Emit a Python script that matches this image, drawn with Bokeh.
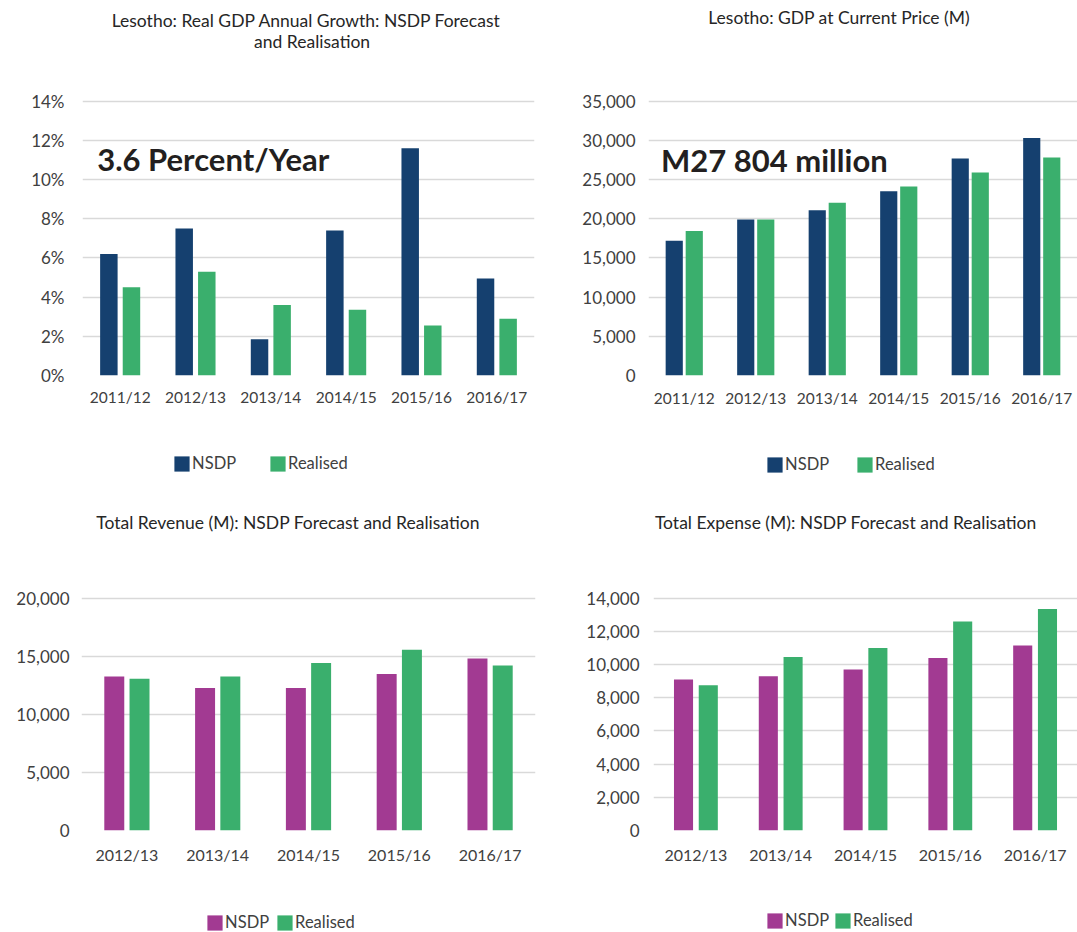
from bokeh.plotting import figure
from bokeh.models import (FactorRange, Range1d, FixedTicker, NumeralTickFormatter,
                          PrintfTickFormatter, Label, Legend, LegendItem, ColumnDataSource)
from bokeh.transform import dodge
from bokeh.layouts import column, row
from bokeh.embed import file_html
from bokeh.resources import INLINE

# ---------------- data ----------------
years_a = ["2011/12", "2012/13", "2013/14", "2014/15", "2015/16", "2016/17"]
growth_nsdp = [6.2, 7.5, 1.85, 7.4, 11.6, 4.95]
growth_real = [4.5, 5.3, 3.6, 3.35, 2.55, 2.9]
growth_ticks = [0, 2, 4, 6, 8, 10, 12, 14]

gdp_nsdp = [17200, 19900, 21100, 23500, 27700, 30300]
gdp_real = [18450, 19900, 22050, 24100, 25900, 27804]
gdp_ticks = [0, 5000, 10000, 15000, 20000, 25000, 30000, 35000]

years_b = ["2012/13", "2013/14", "2014/15", "2015/16", "2016/17"]
rev_nsdp = [13300, 12300, 12300, 13500, 14850]
rev_real = [13100, 13300, 14450, 15600, 14250]
rev_ticks = [0, 5000, 10000, 15000, 20000]

exp_nsdp = [9100, 9300, 9700, 10400, 11150]
exp_real = [8750, 10450, 11000, 12600, 13350]
exp_ticks = [0, 2000, 4000, 6000, 8000, 10000, 12000, 14000]

series_labels = ["NSDP", "Realised"]

# ---------------- style ----------------
FONT = "Lato"
NAVY = "#15406f"
GREEN = "#3aaf6d"
PURPLE = "#a23a92"
TXT = "#404040"
TITLE_C = "#262626"
GRID_C = "#d9d9d9"


def make_chart(W, H, origin, frame, tick_px, cats, nsdp, real, ticks, pct, colors,
               bar_w, off, ystand, xstand, xsize, titles, note):
    ox, oy = origin
    fl, fr, fb = frame  # page coordinates of frame left / right / bottom (zero line)
    ft = oy
    y_end = ticks[-1] * (fb - ft) / (fb - tick_px)
    p = figure(width=W, height=H, x_range=FactorRange(*cats),
               y_range=Range1d(ticks[0], y_end), title=None,
               output_backend="svg", toolbar_location=None,
               min_border_left=fl - ox, min_border_right=ox + W - fr,
               min_border_top=0, min_border_bottom=oy + H - fb)
    p.x_range.range_padding = 0
    p.outline_line_color = None
    p.background_fill_color = None
    p.border_fill_color = None
    p.xgrid.grid_line_color = None
    p.ygrid.ticker = FixedTicker(ticks=ticks)
    p.ygrid.grid_line_color = GRID_C
    p.ygrid.grid_line_width = 1.3

    src = ColumnDataSource(dict(cat=cats, nsdp=nsdp, real=real))
    p.vbar(x=dodge("cat", -off, range=p.x_range), top="nsdp", width=bar_w,
           source=src, fill_color=colors[0], line_color=None)
    p.vbar(x=dodge("cat", off, range=p.x_range), top="real", width=bar_w,
           source=src, fill_color=colors[1], line_color=None)

    ya = p.yaxis[0]
    ya.ticker = FixedTicker(ticks=ticks)
    ya.formatter = PrintfTickFormatter(format="%d%%") if pct else NumeralTickFormatter(format="0,0")
    xa = p.xaxis[0]
    for ax in (xa, ya):
        ax.axis_line_color = None
        ax.major_tick_line_color = None
        ax.minor_tick_line_color = None
        ax.major_tick_out = 0
        ax.major_tick_in = 0
        ax.major_label_text_font = FONT
        ax.major_label_text_color = TXT
    ya.major_label_text_font_size = "17px"
    ya.major_label_standoff = ystand
    xa.major_label_text_font_size = xsize
    xa.major_label_standoff = xstand

    for (txt, cx, cy) in titles:
        p.add_layout(Label(x=cx - fl, y=fb - cy, x_units="screen", y_units="screen",
                           text=txt, text_font=FONT, text_font_size="17.5px",
                           text_color=TITLE_C, text_align="center",
                           text_baseline="middle"))
    if note is not None:
        txt, lx, cy = note
        p.add_layout(Label(x=lx - fl, y=fb - cy, x_units="screen", y_units="screen",
                           text=txt, text_font=FONT, text_font_size="31px",
                           text_font_style="bold", text_color="#231f20",
                           text_align="left", text_baseline="middle"))
    return p


def make_legend(W, H, origin, colors, squares):
    ox, oy = origin
    p = figure(width=W, height=H, x_range=Range1d(0, 1), y_range=Range1d(0, 1),
               title=None, x_axis_location=None, y_axis_location=None,
               output_backend="svg", toolbar_location=None,
               min_border_left=0, min_border_right=0, min_border_top=0, min_border_bottom=0)
    p.outline_line_color = None
    p.background_fill_color = None
    p.border_fill_color = None
    p.grid.visible = False
    fb = oy + H
    gh = 19
    inset = gh * 0.1
    for col, lab, (sx, sy) in zip(colors, series_labels, squares):
        # zero-height swatch source: only used so the legend can draw its colour key
        swatch = ColumnDataSource(dict(x=[0.5], top=[0.0]))
        rend = p.vbar(x="x", top="top", bottom=0, width=0.01, source=swatch,
                      fill_color=col, line_color=None)
        lg = Legend(items=[LegendItem(label=lab, renderers=[rend])],
                    location=(sx - inset - ox, fb - (sy - inset + gh)),
                    orientation="horizontal", glyph_width=gh, glyph_height=gh,
                    label_height=gh, label_width=10, label_standoff=1,
                    padding=0, margin=0, spacing=0,
                    border_line_color=None, background_fill_alpha=0,
                    label_text_font=FONT, label_text_font_size="16.5px",
                    label_text_color=TXT)
        p.add_layout(lg)
    return p


p1 = make_chart(540, 445, (0, 0), (82, 534, 375), 100.7, years_a, growth_nsdp, growth_real,
                growth_ticks, True, (NAVY, GREEN), 0.232, 0.15, 18, 12, "15.5px",
                [("Lesotho: Real GDP Annual Growth: NSDP Forecast", 306, 19.5),
                 ("and Realisation", 311.6, 40.5)],
                ("3.6 Percent/Year", 96.7, 158.5))
l1 = make_legend(540, 35, (0, 445), (NAVY, GREEN), [(174, 456), (270, 456)])

p2 = make_chart(537, 445, (540, 0), (648, 1077, 375), 100.7, years_a, gdp_nsdp, gdp_real,
                gdp_ticks, False, (NAVY, GREEN), 0.24, 0.14, 13, 13, "15.5px",
                [("Lesotho: GDP at Current Price (M)", 838.7, 16.8)],
                ("M27 804 million", 660.5, 159))
l2 = make_legend(537, 35, (540, 445), (NAVY, GREEN), [(767, 457), (857, 457)])

p3 = make_chart(540, 425, (0, 480), (81, 535, 830), 598.3, years_b, rev_nsdp, rev_real,
                rev_ticks, False, (PURPLE, GREEN), 0.22, 0.139, 12, 14, "16px",
                [("Total Revenue (M): NSDP Forecast and Realisation", 287.6, 522.3)],
                None)
l3 = make_legend(540, 26, (0, 905), (PURPLE, GREEN), [(207, 915), (277, 915)])

p4 = make_chart(537, 425, (540, 480), (653, 1077, 830), 597.7, years_b, exp_nsdp, exp_real,
                exp_ticks, False, (PURPLE, GREEN), 0.225, 0.146, 14, 14, "16px",
                [("Total Expense (M): NSDP Forecast and Realisation", 845.3, 522.3)],
                None)
l4 = make_legend(537, 26, (540, 905), (PURPLE, GREEN), [(767, 913), (835, 913)])

layout = column(row(p1, p2), row(l1, l2), row(p3, p4), row(l3, l4))
open("out.html", "w").write(file_html(layout, INLINE))
